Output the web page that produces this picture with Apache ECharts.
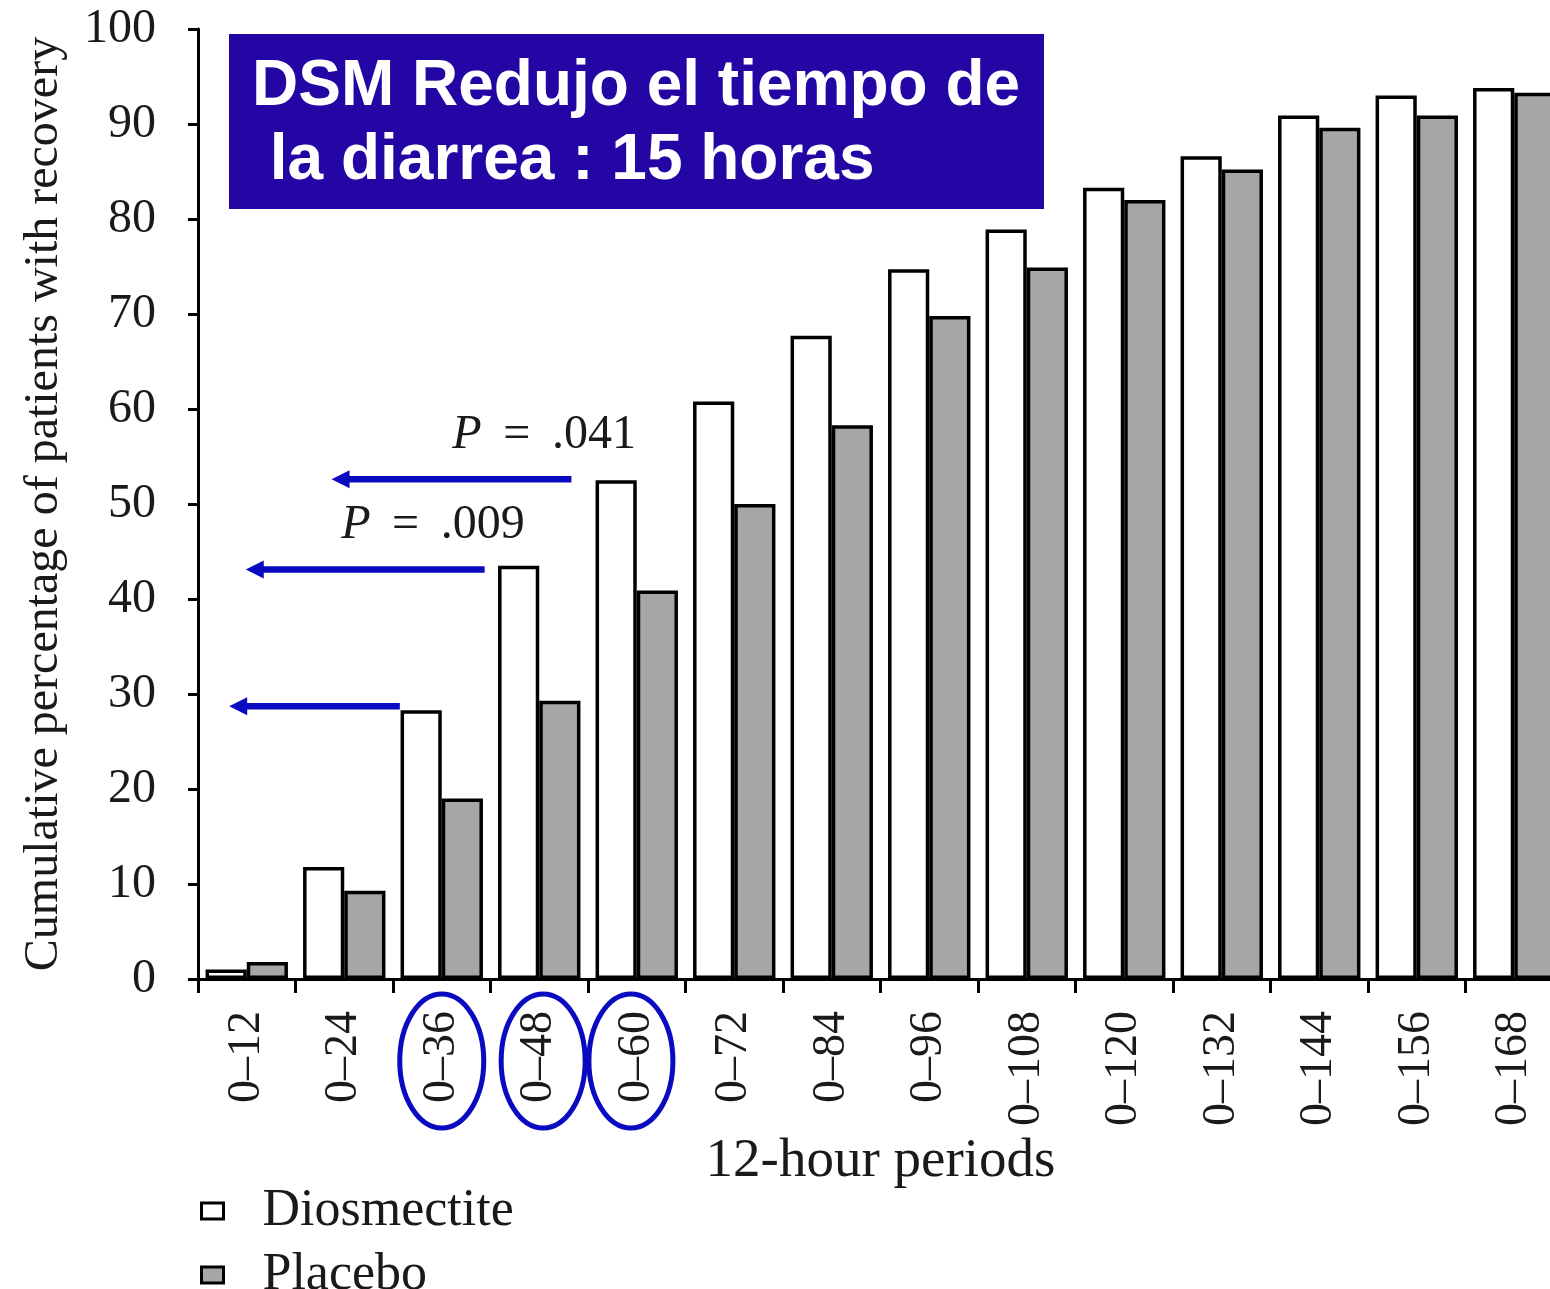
<!DOCTYPE html>
<html>
<head>
<meta charset="utf-8">
<script src="https://cdn.jsdelivr.net/npm/echarts@6/dist/echarts.min.js"></script>
<style>
  html, body { margin: 0; padding: 0; background: #ffffff; }
  #chart { width: 1550px; height: 1289px; }
</style>
</head>
<body>
<div id="chart"></div>
<script>
// Cumulative percentage of patients with recovery, by 12-hour period
const periods = ['0–12', '0–24', '0–36', '0–48', '0–60', '0–72', '0–84',
                 '0–96', '0–108', '0–120', '0–132', '0–144', '0–156', '0–168'];
const diosmectite = [1.0, 11.8, 28.3, 43.5, 52.5, 60.8, 67.7, 74.7, 78.9, 83.3, 86.6, 90.9, 93.0, 93.8];
const placebo     = [1.8,  9.3, 19.0, 29.3, 40.9, 50.0, 58.3, 69.8, 74.9, 82.0, 85.2, 89.6, 90.9, 93.3];

const yMin = 0, yMax = 100, yStep = 10;

// Annotations: periods circled on the axis, arrows pointing back to the y axis
const circled = ['0–36', '0–48', '0–60'];
const circleShift = [0, 0.04, -0.06];    // in category units
const arrowLevel = [28.7, 43.1, 52.6];   // in axis units
const arrowTip = [-0.18, -0.01, 0.87];   // in category units (band centres)
const arrowTail = [1.57, 2.44, 3.33];
const pText = ['', '.009', '.041'];
const pTextX = [0, 1.91, 3.05];

const SERIF = "'Liberation Serif', 'Times New Roman', 'DejaVu Serif', serif";
const SANS = "'Liberation Sans', Arial, 'DejaVu Sans', sans-serif";
const BLUE = '#0a0ac0';

const chart = echarts.init(document.getElementById('chart'), null, { renderer: 'canvas' });

chart.setOption({
  backgroundColor: '#ffffff',
  animation: false,
  grid: {
    left: 198, top: 29, width: 1365, bottom: 310,
    containLabel: false, outerBoundsMode: 'none'
  },
  legend: {
    orient: 'vertical',
    left: 200, top: 1185, height: 140,
    padding: 0,
    itemWidth: 22, itemHeight: 16, itemGap: 12,
    icon: 'rect',
    itemStyle: { borderColor: '#000', borderWidth: 3 },
    textStyle: {
      fontFamily: SERIF, fontSize: 52, color: '#1a1a1a',
      lineHeight: 50, padding: [0, 0, 0, 34]
    },
    data: ['Diosmectite', 'Placebo']
  },
  xAxis: {
    type: 'category',
    data: periods,
    boundaryGap: true,
    name: '12-hour periods',
    nameLocation: 'middle',
    nameGap: 152,
    nameTextStyle: { fontFamily: SERIF, fontSize: 55, color: '#1a1a1a' },
    axisLine: { show: true, lineStyle: { color: '#000', width: 3 } },
    axisTick: { show: true, length: 14, interval: 0, lineStyle: { color: '#000', width: 3 } },
    axisLabel: {
      interval: 0, rotate: 90, margin: 32,
      fontFamily: SERIF, fontSize: 46, color: '#1a1a1a'
    },
    splitLine: { show: false }
  },
  yAxis: {
    type: 'value',
    min: yMin, max: yMax, interval: yStep,
    name: 'Cumulative percentage of patients with recovery',
    nameLocation: 'middle',
    nameRotate: 90,
    nameGap: 130,
    nameTextStyle: { fontFamily: SERIF, fontSize: 48, color: '#1a1a1a' },
    axisLine: { show: true, lineStyle: { color: '#000', width: 3 } },
    axisTick: { show: true, length: 10, lineStyle: { color: '#000', width: 3 } },
    axisLabel: { margin: 42, fontFamily: SERIF, fontSize: 48, color: '#1a1a1a' },
    splitLine: { show: false }
  },
  series: [
    {
      name: 'Diosmectite',
      type: 'bar',
      data: diosmectite,
      barGap: '0%',
      barCategoryGap: '15.5%',
      itemStyle: { color: '#ffffff', borderColor: '#000000', borderWidth: 3.5 }
    },
    {
      name: 'Placebo',
      type: 'bar',
      data: placebo,
      itemStyle: { color: '#a6a6a6', borderColor: '#000000', borderWidth: 3.5 }
    }
  ]
});

// Annotation overlay, positioned through the chart's own axes
function px(catPos, value) {
  const p0 = chart.convertToPixel({ gridIndex: 0 }, [0, value]);
  const p1 = chart.convertToPixel({ gridIndex: 0 }, [1, value]);
  return [p0[0] + catPos * (p1[0] - p0[0]), p0[1]];
}

const overlay = [];

// Heading box
overlay.push({
  type: 'group',
  left: 229, top: 34,
  children: [
    { type: 'rect', shape: { x: 0, y: 0, width: 815, height: 175 }, style: { fill: '#2406a4' } },
    {
      type: 'text', x: 23, y: 16,
      style: {
        text: 'DSM Redujo el tiempo de\n la diarrea : 15 horas',
        font: 'bold 64px ' + SANS,
        lineHeight: 74,
        fill: '#ffffff',
        textVerticalAlign: 'top'
      }
    }
  ]
});

// Arrows pointing left, with their P values
arrowLevel.forEach(function (v, i) {
  const tip = px(arrowTip[i], v);
  const tail = px(arrowTail[i], v);
  const head = 18, half = 9;
  overlay.push({
    type: 'line',
    shape: { x1: tail[0], y1: tail[1], x2: tip[0] + head - 1, y2: tip[1] },
    style: { stroke: BLUE, lineWidth: 6.5 },
    z: 100
  });
  overlay.push({
    type: 'polygon',
    shape: { points: [[tip[0], tip[1]], [tip[0] + head, tip[1] - half], [tip[0] + head, tip[1] + half]] },
    style: { fill: BLUE },
    z: 100
  });
  if (pText[i]) {
    const at = px(pTextX[i], v);
    overlay.push({
      type: 'text',
      x: at[0], y: at[1] - 44,
      style: {
        text: '{i|P} \u2009= \u2009' + pText[i],
        font: '48px ' + SERIF,
        fill: '#1a1a1a',
        textAlign: 'center',
        textVerticalAlign: 'middle',
        rich: { i: { fontStyle: 'italic', fontFamily: SERIF, fontSize: 48, fill: '#1a1a1a' } }
      },
      z: 100
    });
  }
});

// Ellipses around the highlighted period labels
circled.forEach(function (cat, i) {
  const c = px(periods.indexOf(cat) + circleShift[i], 0);
  overlay.push({
    type: 'ellipse',
    shape: { cx: c[0], cy: c[1] + 82, rx: 42, ry: 67 },
    style: { fill: null, stroke: BLUE, lineWidth: 5 },
    z: 100
  });
});

chart.setOption({ graphic: overlay });
</script>
</body>
</html>
